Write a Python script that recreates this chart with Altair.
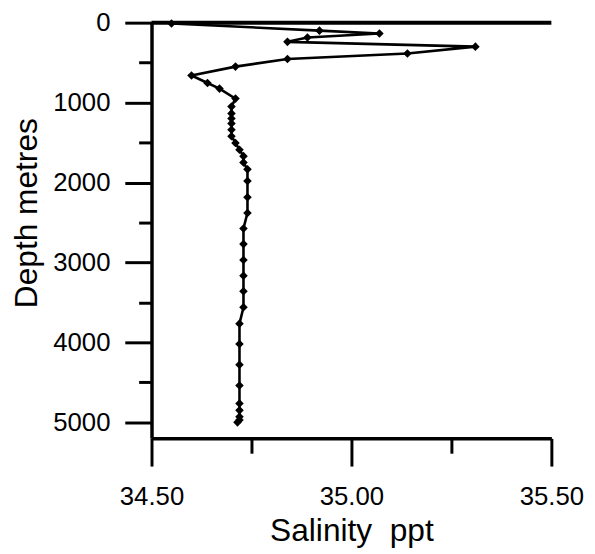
import altair as alt
import pandas as pd

# Salinity profile (ppt) and sampling depths (metres)
salinity = [34.55, 34.92, 35.07, 34.89, 34.84, 35.31, 35.14, 34.84, 34.71, 34.60,
            34.64, 34.67, 34.71, 34.70, 34.70, 34.70, 34.70, 34.70, 34.70, 34.71,
            34.72, 34.73, 34.73, 34.74, 34.74, 34.74, 34.74, 34.73, 34.73, 34.73,
            34.73, 34.73, 34.73, 34.72, 34.72, 34.72, 34.72, 34.72, 34.72, 34.72,
            34.72, 34.715]
depth = [10, 100, 135, 185, 240, 300, 385, 455, 550, 660,
         755, 825, 950, 1050, 1135, 1200, 1260, 1340, 1420, 1505,
         1590, 1670, 1750, 1835, 1980, 2185, 2380, 2575, 2770, 2970,
         3165, 3360, 3560, 3765, 4020, 4280, 4540, 4765, 4850, 4930,
         4970, 5000]

x_ticks = [34.5, 34.75, 35.0, 35.25, 35.5]
y_ticks = [0, 500, 1000, 1500, 2000, 2500, 3000, 3500, 4000, 4500, 5000]

df = pd.DataFrame({"salinity": salinity, "depth": depth, "order": list(range(len(depth)))})

W, H = 404, 420
FONT = "Liberation Sans"

x_major = "abs(datum.value*2 - round(datum.value*2)) < 0.001"
y_major = "datum.value % 1000 === 0"

x_enc = alt.X(
    "salinity:Q",
    scale=alt.Scale(domain=[34.5, 35.5], nice=False, zero=False),
    axis=alt.Axis(
        values=x_ticks,
        format=".2f",
        labelExpr=f"{x_major} ? datum.label : ''",
        tickSize={"condition": {"test": x_major, "value": 28}, "value": 15},
        labelPadding=18,
        labelFlush=False,
        labelOverlap=False,
        title="Salinity\u00a0 ppt",
        titleBaseline="alphabetic",
        titleY=103,
    ),
)
y_enc = alt.Y(
    "depth:Q",
    scale=alt.Scale(domain=[0, 5200], reverse=True, nice=False, zero=False),
    axis=alt.Axis(
        values=y_ticks,
        format="d",
        labelExpr=f"{y_major} ? datum.label : ''",
        tickSize={"condition": {"test": y_major, "value": 27}, "value": 13},
        labelPadding=15,
        labelFlush=False,
        labelOverlap=False,
        title="Depth metres",
        titleBaseline="alphabetic",
        titleX=-116,
        titleY=192,
    ),
)

base = alt.Chart(df)
line = base.mark_line(color="black", strokeWidth=2.6).encode(x=x_enc, y=y_enc, order="order:Q")
points = base.mark_point(shape="diamond", filled=True, color="black", size=75, opacity=1).encode(
    x="salinity:Q", y="depth:Q"
)
top = alt.Chart(pd.DataFrame({"k": [0]})).mark_rule(color="black", strokeWidth=4).encode(
    x=alt.value(0), x2=alt.value(W), y=alt.value(0)
)

chart = (
    alt.layer(line, points, top)
    .properties(
        width=W,
        height=H,
        autosize=alt.AutoSizeParams(type="none"),
        padding={"left": 145, "top": 12, "right": 36, "bottom": 110},
    )
    .configure_view(stroke=None)
    .configure_axis(
        grid=False,
        domainColor="black",
        domainWidth=3.5,
        tickColor="black",
        tickWidth=3,
        labelFont=FONT,
        labelFontSize=26,
        labelColor="black",
        titleFont=FONT,
        titleFontSize=32,
        titleFontWeight="normal",
        titleColor="black",
    )
)

chart.save("out.html", embed_options={"renderer": "svg", "actions": False})
